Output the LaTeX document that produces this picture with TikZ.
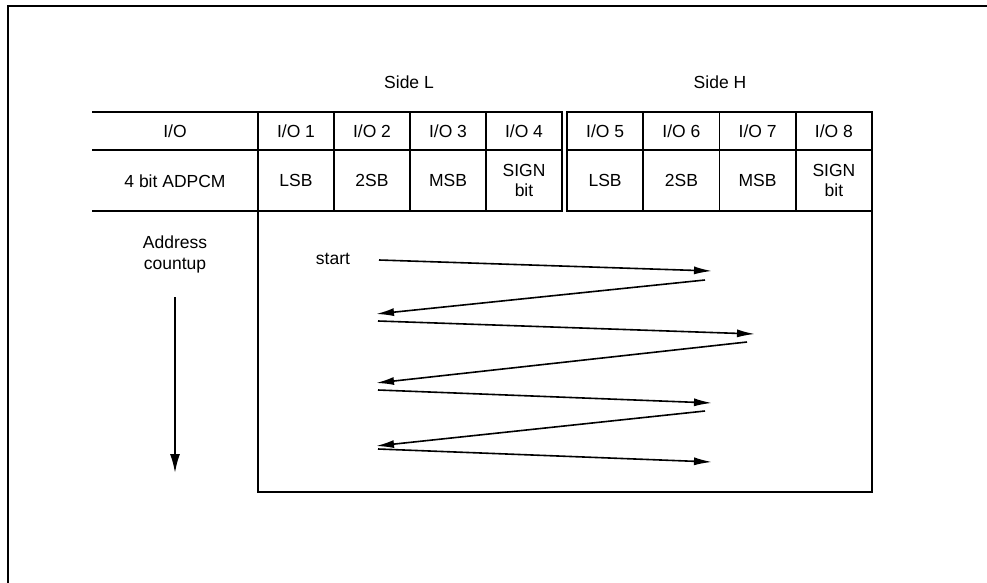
\documentclass[tikz,border=0pt]{standalone}
\usepackage{fontspec}
\setmainfont{Liberation Sans}
\usetikzlibrary{arrows.meta}

\begin{document}
\begin{tikzpicture}[x=1pt, y=-1pt, line width=1.9pt,
    font=\fontsize{17.5}{20}\selectfont,
    >={Latex[length=18pt,width=8pt]},
    tcell/.style={draw, rectangle, inner sep=0pt, outer sep=0pt, align=center}]

    \useasboundingbox (0,0) rectangle (987,583);
    \draw (8,583) -- (8,6) -- (987,6);

    \node (sideL) at (409,82) {Side L};
    \node (sideH) at (720,82) {Side H};

    % left column
    \draw (92,112) -- (258,112);
    \draw (92,150) -- (258,150);
    \draw (92,211) -- (258,211);
    \node (io) at (175,131) {I/O};
    \node (adpcm) at (175,181) {4 bit ADPCM};
    \node[align=center] (addr) at (175,254) {Address\\[1pt]countup};

    % side L and side H cells
    \foreach \i/\x/\b in {1/296/LSB, 2/372/2SB, 3/448/MSB, 4/524/{SIGN\\bit}}
    {
        \node[tcell, minimum width=76pt, minimum height=38pt] (io\i) at (\x,131) {I/O \i};
        \node[tcell, minimum width=76pt, minimum height=61pt] (bit\i) at (\x,180.5) {\b};
    }
    \foreach \i/\x/\b in {5/605.1/LSB, 6/681.4/2SB, 7/757.6/MSB, 8/833.9/{SIGN\\bit}}
    {
        \node[tcell, minimum width=76.25pt, minimum height=38pt] (io\i) at (\x,131) {I/O \i};
        \node[tcell, minimum width=76.25pt, minimum height=61pt] (bit\i) at (\x,180.5) {\b};
    }

    % scan area
    \draw (bit1.south west) -- (258,492) -- (872,492) -- (bit8.south east);

    \node (start) at (333,259) {start};
    \coordinate (a0) at (379,260);  \coordinate (a1) at (712,271);
    \coordinate (b0) at (705,280);  \coordinate (b1) at (376,314);
    \coordinate (c0) at (378,321);  \coordinate (c1) at (755,334);
    \coordinate (d0) at (747,342);  \coordinate (d1) at (376,383);
    \coordinate (e0) at (378,390);  \coordinate (e1) at (712,403);
    \coordinate (f0) at (705,411);  \coordinate (f1) at (376,446);
    \coordinate (g0) at (378,449);  \coordinate (g1) at (712,462);

    \foreach \p in {a,b,c,d,e,f,g}
        \draw[->, line width=1.6pt] (\p0) -- (\p1);

    \coordinate (top) at (175,297);
    \coordinate (bottom) at (175,473);
    \draw[->, >={Latex[length=19pt,width=10pt]}] (top) -- (bottom);

\end{tikzpicture}
\end{document}
